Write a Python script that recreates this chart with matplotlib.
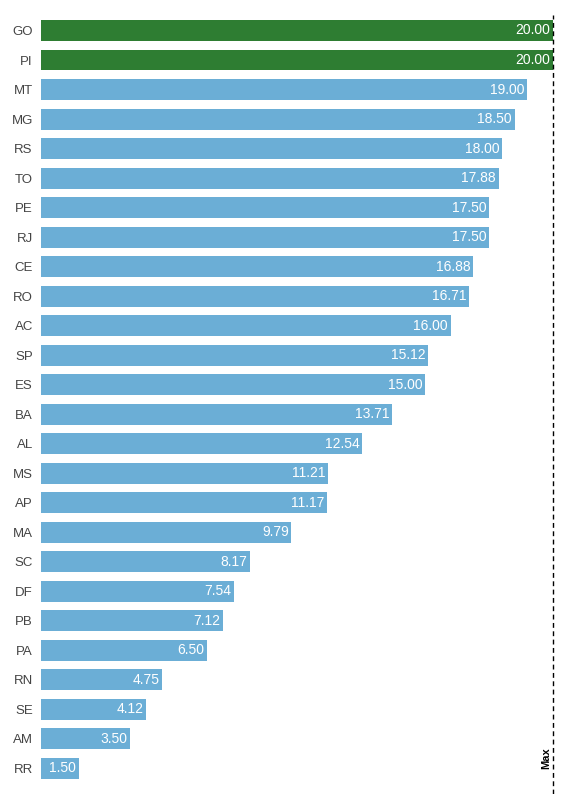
import matplotlib
matplotlib.use("Agg")
import matplotlib.pyplot as plt

states = ["GO", "PI", "MT", "MG", "RS", "TO", "PE", "RJ", "CE", "RO", "AC", "SP", "ES",
          "BA", "AL", "MS", "AP", "MA", "SC", "DF", "PB", "PA", "RN", "SE", "AM", "RR"]
values = [20.00, 20.00, 19.00, 18.50, 18.00, 17.88, 17.50, 17.50, 16.88, 16.71, 16.00, 15.12, 15.00,
          13.71, 12.54, 11.21, 11.17, 9.79, 8.17, 7.54, 7.12, 6.50, 4.75, 4.12, 3.50, 1.50]
max_value = 20.0

plt.rcParams['font.family'] = ['Liberation Sans', 'DejaVu Sans']

fig = plt.figure(figsize=(5.85, 8.0), dpi=100)
W, H = 585, 800
ax = fig.add_axes([40.5 / W, 1 - 794 / H, (560 - 40.5) / W, (794 - 15) / H])

colors = ["#2e7d32" if v >= max_value else "#6baed6" for v in values]
ypos = list(range(len(states)))
ax.barh(ypos, values, height=0.71, color=colors)
ax.set_ylim(25.864, -0.525)
ax.set_xlim(0, max_value * (519.5 / 512.5))

for y, v in zip(ypos, values):
    ax.text(v - 0.1, y, f"{v:.2f}", ha="right", va="center", color="white", fontsize=10)

ax.axvline(max_value, color="black", linestyle=(0, (3.5, 2.5)), linewidth=1)
ax.text(max_value - 0.07, 25.03, "Max", rotation=90, ha="right", va="bottom",
        fontsize=8, fontweight="bold", color="black")

ax.set_yticks(ypos)
ax.set_yticklabels(states, fontsize=9.5, color="#444444")
ax.tick_params(axis="y", length=0, pad=5.5)
ax.set_xticks([])
for s in ax.spines.values():
    s.set_visible(False)

fig.savefig("out.png", dpi=100)
